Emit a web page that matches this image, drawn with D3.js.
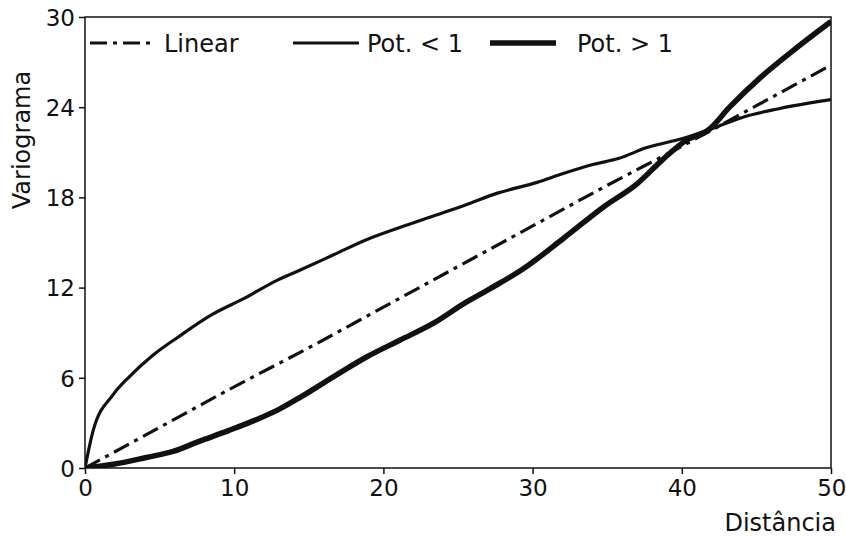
<!DOCTYPE html>
<html>
<head>
<meta charset="utf-8">
<script src="https://cdn.jsdelivr.net/npm/d3@7"></script>
<style>
  body { margin: 0; background: #fff; }
  text { font-family: "DejaVu Sans", sans-serif; fill: #111; }
</style>
</head>
<body>
<script>
// Values
var xTicks = [0, 10, 20, 30, 40, 50];
var yTicks = [0, 6, 12, 18, 24, 30];

var linearDist = [0, 5, 10, 15, 20, 25, 30, 35, 40, 45, 50];
var linearVal  = [0, 2.7, 5.4, 8.0, 10.7, 13.4, 16.1, 18.8, 21.4, 24.1, 26.8];

var potLowDist = [0, 0.55, 1.9, 3.0, 4.55, 6.3, 8.5, 10.7, 12.9, 14.5, 16.7, 18.9, 21.1,
                  23.3, 25.5, 27.7, 30.3, 32.1, 34.1, 35.8, 37.6, 40.0, 42.1, 44.3, 46.5, 50];
var potLowVal  = [0, 2.5, 4.9, 6.1, 7.5, 8.75, 10.2, 11.3, 12.5, 13.2, 14.2, 15.2, 16.0,
                  16.75, 17.5, 18.3, 19.0, 19.6, 20.2, 20.6, 21.3, 21.9, 22.6, 23.4, 23.9, 24.5];

var potHighDist = [0, 1.9, 4.1, 5.9, 7.6, 9.65, 11.2, 13.0, 14.5, 16.7, 18.9, 21.1, 23.3,
                   25.5, 27.1, 29.3, 32.1, 34.8, 37.0, 38.7, 40.3, 41.8, 43.2, 45.3, 47.5, 50];
var potHighVal  = [0, 0.25, 0.7, 1.1, 1.75, 2.5, 3.1, 3.9, 4.75, 6.1, 7.4, 8.5, 9.6,
                   11.0, 11.9, 13.2, 15.3, 17.4, 18.9, 20.5, 21.8, 22.5, 24.0, 26.0, 27.8, 29.7];

var seriesNames = ["Linear", "Pot. < 1", "Pot. > 1"];

// SVG area
var svgWidth = 846;
var svgHeight = 537;
var margin = { top: 17, right: 15, bottom: 69, left: 85 };
var chartWidth = svgWidth - margin.left - margin.right;
var chartHeight = svgHeight - margin.top - margin.bottom;

var svg = d3.select("body")
  .append("svg")
  .attr("width", svgWidth)
  .attr("height", svgHeight);

var chartGroup = svg.append("g")
  .attr("transform", `translate(${margin.left}, ${margin.top})`);

var xScale = d3.scaleLinear().domain([0, 50]).range([0, chartWidth]);
var yScale = d3.scaleLinear().domain([0, 30]).range([chartHeight, 0]);

// build series from the arrays
function zipSeries(ds, vs) {
  return ds.map((d, i) => ({ dist: d, val: vs[i] }));
}
var series = [
  { name: seriesNames[0], data: zipSeries(linearDist, linearVal), width: 3.2, dash: "17,6,4,6" },
  { name: seriesNames[1], data: zipSeries(potLowDist, potLowVal), width: 3.2, dash: null },
  { name: seriesNames[2], data: zipSeries(potHighDist, potHighVal), width: 5.5, dash: null }
];

var drawLine = d3.line()
  .x(d => xScale(d.dist))
  .y(d => yScale(d.val))
  .curve(d3.curveMonotoneX);

chartGroup.append("clipPath").attr("id", "clip")
  .append("rect").attr("width", chartWidth).attr("height", chartHeight);

chartGroup.selectAll("path.series")
  .data(series)
  .join("path")
  .attr("class", "series")
  .attr("clip-path", "url(#clip)")
  .attr("d", s => drawLine(s.data))
  .attr("fill", "none")
  .attr("stroke", "#111")
  .attr("stroke-width", s => s.width)
  .attr("stroke-dasharray", s => s.dash)
  .attr("stroke-linejoin", "round")
  .attr("stroke-linecap", "butt");

// axes
var bottomAxis = d3.axisBottom(xScale).tickValues(xTicks).tickSize(6).tickPadding(6);
var leftAxis = d3.axisLeft(yScale).tickValues(yTicks).tickSize(6).tickPadding(4);

var xAxisG = chartGroup.append("g")
  .attr("transform", `translate(0, ${chartHeight})`)
  .call(bottomAxis);
var yAxisG = chartGroup.append("g").call(leftAxis);

[xAxisG, yAxisG].forEach(g => {
  g.select(".domain").remove();
  g.selectAll("line").attr("stroke", "#111").attr("stroke-width", 1.5);
  g.selectAll("text").style("font-size", "23px").attr("fill", "#111");
});
yAxisG.selectAll("text").attr("dy", "0.36em");
// keep the last x label inside the picture
xAxisG.selectAll("text").filter(d => d === 50).attr("text-anchor", "end").attr("dx", "0.65em");

// frame
chartGroup.append("rect")
  .attr("width", chartWidth)
  .attr("height", chartHeight)
  .attr("fill", "none")
  .attr("stroke", "#111")
  .attr("stroke-width", 1.5);

// axis labels
svg.append("text")
  .attr("x", margin.left + chartWidth + 5)
  .attr("y", 531)
  .attr("text-anchor", "end")
  .style("font-size", "24px")
  .text("Distância");

svg.append("text")
  .attr("transform", "translate(30, 140) rotate(-90)")
  .attr("text-anchor", "middle")
  .style("font-size", "24px")
  .text("Variograma");

// legend
var legendX = [5, 208, 405];
var legend = chartGroup.selectAll("g.legend")
  .data(series)
  .join("g")
  .attr("class", "legend")
  .attr("transform", (s, i) => `translate(${legendX[i]}, 26)`);

legend.append("line")
  .attr("x1", 0).attr("x2", 66)
  .attr("stroke", "#111")
  .attr("stroke-width", s => s.width)
  .attr("stroke-dasharray", s => s.dash);

legend.append("text")
  .attr("x", s => s.name === "Pot. > 1" ? 87 : 74)
  .attr("dy", "0.36em")
  .style("font-size", "24px")
  .text(s => s.name);
</script>
</body>
</html>
